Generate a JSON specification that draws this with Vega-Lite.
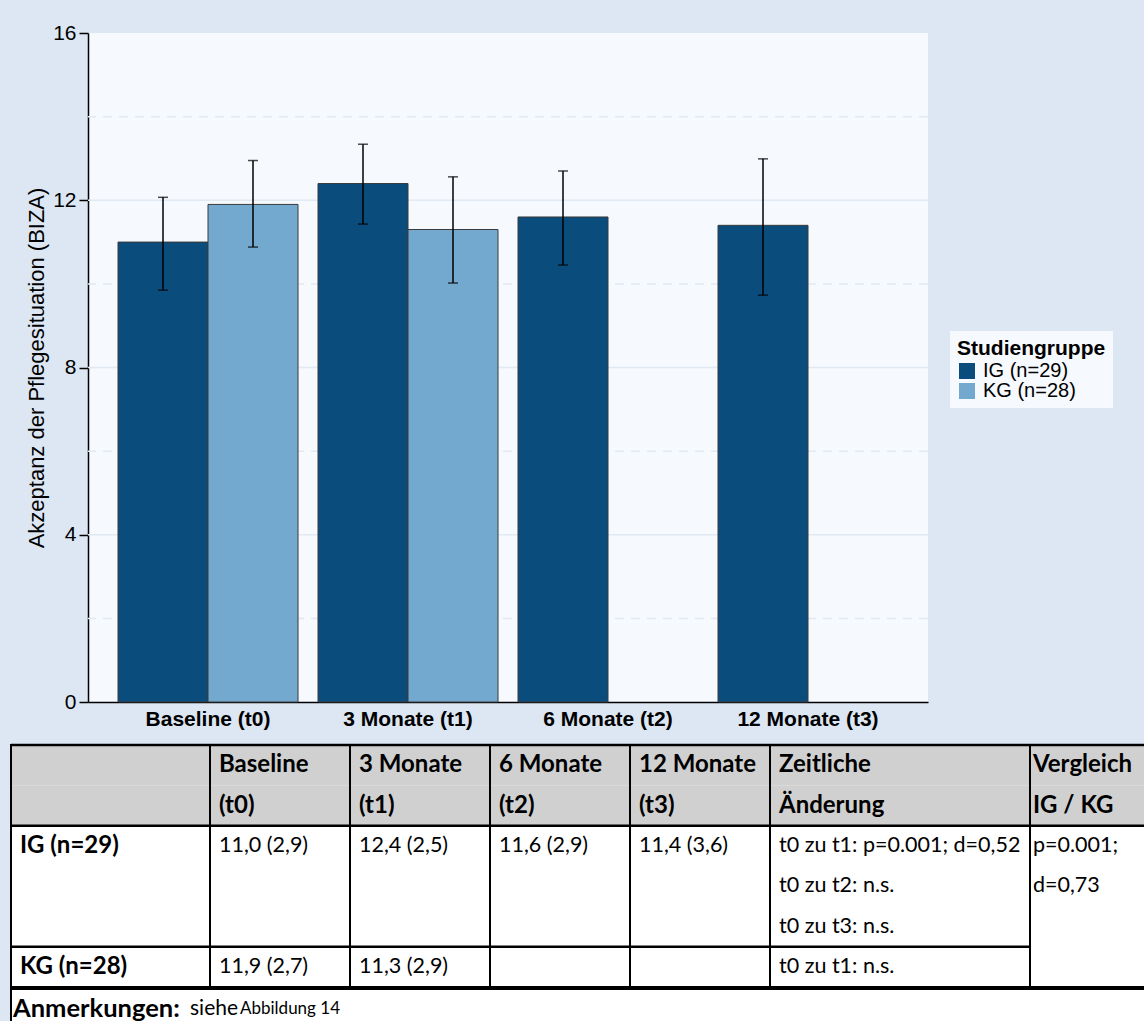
{
  "$schema": "https://vega.github.io/schema/vega-lite/v6.json",
  "background": "#dce7f3",
  "padding": {"left": 8, "top": 22, "right": 0, "bottom": 0},
  "config": {
    "font": "Liberation Sans",
    "concat": {"spacing": 0}
  },
  "datasets": {
    "werte": [
      {"zeit": "Baseline (t0)", "gruppe": "IG (n=29)", "mittel": 11.0, "unten": 9.85, "oben": 12.07},
      {"zeit": "Baseline (t0)", "gruppe": "KG (n=28)", "mittel": 11.9, "unten": 10.88, "oben": 12.95},
      {"zeit": "3 Monate (t1)", "gruppe": "IG (n=29)", "mittel": 12.4, "unten": 11.43, "oben": 13.34},
      {"zeit": "3 Monate (t1)", "gruppe": "KG (n=28)", "mittel": 11.3, "unten": 10.02, "oben": 12.56},
      {"zeit": "6 Monate (t2)", "gruppe": "IG (n=29)", "mittel": 11.6, "unten": 10.45, "oben": 12.7},
      {"zeit": "12 Monate (t3)", "gruppe": "IG (n=29)", "mittel": 11.4, "unten": 9.73, "oben": 12.99}
    ],
    "raster": [
      {"wert": 2, "art": "fein"}, {"wert": 4, "art": "grob"}, {"wert": 6, "art": "fein"},
      {"wert": 8, "art": "grob"}, {"wert": 10, "art": "fein"}, {"wert": 12, "art": "grob"},
      {"wert": 14, "art": "fein"}
    ],
    "zellen": [
      {"col": "kopf", "line": 0, "text": ""},
      {"col": "kopf", "line": 1, "text": ""},
      {"col": "kopf", "line": 2, "text": "IG (n=29)"},
      {"col": "kopf", "line": 5, "text": "KG (n=28)"},
      {"col": "t0", "line": 0, "text": "Baseline"},
      {"col": "t0", "line": 1, "text": "(t0)"},
      {"col": "t0", "line": 2, "text": "11,0 (2,9)"},
      {"col": "t0", "line": 5, "text": "11,9 (2,7)"},
      {"col": "t1", "line": 0, "text": "3 Monate"},
      {"col": "t1", "line": 1, "text": "(t1)"},
      {"col": "t1", "line": 2, "text": "12,4 (2,5)"},
      {"col": "t1", "line": 5, "text": "11,3 (2,9)"},
      {"col": "t2", "line": 0, "text": "6 Monate"},
      {"col": "t2", "line": 1, "text": "(t2)"},
      {"col": "t2", "line": 2, "text": "11,6 (2,9)"},
      {"col": "t3", "line": 0, "text": "12 Monate"},
      {"col": "t3", "line": 1, "text": "(t3)"},
      {"col": "t3", "line": 2, "text": "11,4 (3,6)"},
      {"col": "zeit", "line": 0, "text": "Zeitliche"},
      {"col": "zeit", "line": 1, "text": "Änderung"},
      {"col": "zeit", "line": 2, "text": "t0 zu t1: p=0.001; d=0,52"},
      {"col": "zeit", "line": 3, "text": "t0 zu t2: n.s."},
      {"col": "zeit", "line": 4, "text": "t0 zu t3: n.s."},
      {"col": "zeit", "line": 5, "text": "t0 zu t1: n.s."},
      {"col": "vgl", "line": 0, "text": "Vergleich"},
      {"col": "vgl", "line": 1, "text": "IG / KG"},
      {"col": "vgl", "line": 2, "text": "p=0.001;"},
      {"col": "vgl", "line": 3, "text": "d=0,73"}
    ],
    "grenzen": [
      {"col": "kopf", "line": 0}, {"col": "kopf", "line": 2}, {"col": "kopf", "line": 5},
      {"col": "t0", "line": 0}, {"col": "t0", "line": 2}, {"col": "t0", "line": 5},
      {"col": "t1", "line": 0}, {"col": "t1", "line": 2}, {"col": "t1", "line": 5},
      {"col": "t2", "line": 0}, {"col": "t2", "line": 2}, {"col": "t2", "line": 5},
      {"col": "t3", "line": 0}, {"col": "t3", "line": 2}, {"col": "t3", "line": 5},
      {"col": "zeit", "line": 0}, {"col": "zeit", "line": 2}, {"col": "zeit", "line": 5},
      {"col": "vgl", "line": 0}, {"col": "vgl", "line": 2}
    ],
    "fussnote": [
      {"a": "Anmerkungen:", "b": "siehe", "c": "Abbildung 14"}
    ]
  },
  "spacing": 0,
  "vconcat": [
    {
      "spacing": 0,
      "hconcat": [
        {
          "width": 14,
          "height": 669,
          "view": {"fill": null, "stroke": null},
          "data": {"values": [{"leer": 0}]},
          "mark": {"type": "rule", "opacity": 0},
          "encoding": {}
        },
        {
          "width": 840,
          "height": 669,
          "view": {"fill": "#f6f9fd", "stroke": null},
          "layer": [
            {
              "data": {"name": "raster"},
              "transform": [{"filter": "datum.art === 'grob'"}],
              "mark": {"type": "rule", "color": "#e1e9f3", "strokeWidth": 1.5},
              "encoding": {
                "y": {"field": "wert", "type": "quantitative", "scale": {"domain": [0, 16]}, "title": "Akzeptanz der Pflegesituation (BIZA)"}
              }
            },
            {
              "data": {"name": "raster"},
              "transform": [{"filter": "datum.art === 'fein'"}],
              "mark": {"type": "rule", "color": "#e1e9f3", "strokeWidth": 1.5, "strokeDash": [9, 7]},
              "encoding": {
                "y": {"field": "wert", "type": "quantitative", "title": "Akzeptanz der Pflegesituation (BIZA)"}
              }
            },
            {
              "data": {"name": "werte"},
              "mark": {"type": "bar", "stroke": "#3a3a3a", "strokeWidth": 1},
              "encoding": {
                "x": {
                  "field": "zeit", "type": "nominal", "title": null,
                  "scale": {"domain": ["Baseline (t0)", "3 Monate (t1)", "6 Monate (t2)", "12 Monate (t3)"], "paddingInner": 0.1, "paddingOuter": 0.15},
                  "axis": {"labelAngle": 0, "labelFontSize": 21, "labelFontWeight": "bold", "labelColor": "black", "ticks": false, "labelPadding": 6, "domainColor": "black", "domainWidth": 1.5, "grid": false, "minExtent": 40}
                },
                "xOffset": {"field": "gruppe", "type": "nominal", "scale": {"domain": ["IG (n=29)", "KG (n=28)"], "paddingInner": 0, "paddingOuter": 0}},
                "y": {
                  "field": "mittel", "type": "quantitative", "title": "Akzeptanz der Pflegesituation (BIZA)",
                  "axis": {"values": [0, 4, 8, 12, 16], "grid": false, "tickSize": 9, "tickColor": "black", "tickWidth": 1.5, "labelPadding": 3, "labelFontSize": 21, "labelColor": "black", "domainColor": "black", "domainWidth": 1.5, "titleFontSize": 22, "titleFontWeight": "normal", "titleColor": "black", "titlePadding": 4}
                },
                "color": {
                  "field": "gruppe", "type": "nominal",
                  "scale": {"domain": ["IG (n=29)", "KG (n=28)"], "range": ["#0a4c7c", "#74a9cf"]},
                  "legend": {"title": "Studiengruppe", "orient": "none", "legendX": 939, "legendY": 298, "fillColor": "#f6f9fd", "padding": 7, "titleFontSize": 21, "titleFontWeight": "bold", "titleColor": "black", "titlePadding": 2, "labelFontSize": 20, "labelColor": "black", "symbolType": "square", "symbolSize": 256, "symbolStrokeWidth": 0, "rowPadding": -2, "labelOffset": 6}
                }
              }
            },
            {
              "data": {"name": "werte"},
              "mark": {"type": "rule", "color": "black", "strokeWidth": 1.5},
              "encoding": {
                "x": {"field": "zeit", "type": "nominal", "title": null},
                "xOffset": {"field": "gruppe", "type": "nominal"},
                "y": {"field": "unten", "type": "quantitative", "title": "Akzeptanz der Pflegesituation (BIZA)"},
                "y2": {"field": "oben"}
              }
            },
            {
              "data": {"name": "werte"},
              "mark": {"type": "tick", "color": "black", "thickness": 1.5, "size": 10},
              "encoding": {
                "x": {"field": "zeit", "type": "nominal", "title": null},
                "xOffset": {"field": "gruppe", "type": "nominal"},
                "y": {"field": "unten", "type": "quantitative", "title": "Akzeptanz der Pflegesituation (BIZA)"}
              }
            },
            {
              "data": {"name": "werte"},
              "mark": {"type": "tick", "color": "black", "thickness": 1.5, "size": 10},
              "encoding": {
                "x": {"field": "zeit", "type": "nominal", "title": null},
                "xOffset": {"field": "gruppe", "type": "nominal"},
                "y": {"field": "oben", "type": "quantitative", "title": "Akzeptanz der Pflegesituation (BIZA)"}
              }
            }
          ]
        }
      ]
    },
    {
      "spacing": -3,
      "vconcat": [
        {
          "hconcat": [
            {
              "width": 199, "height": 242,
              "view": {"fill": "white", "stroke": "black", "strokeWidth": 2},
              "layer": [
                {"data": {"name": "zellen"}, "transform": [{"filter": "datum.col === 'kopf' && datum.line < 2"}], "mark": {"type": "rect", "color": "#d0d0d0"},
                 "encoding": {"x": {"field": "col", "type": "nominal", "axis": null, "scale": {"paddingInner": 0, "paddingOuter": 0}}, "y": {"field": "line", "type": "ordinal", "axis": null, "scale": {"domain": [0, 1, 2, 3, 4, 5], "paddingInner": 0, "paddingOuter": 0}}}},
                {"data": {"name": "zellen"}, "transform": [{"filter": "datum.col === 'kopf'"}], "mark": {"type": "text", "align": "left", "baseline": "middle", "dx": 9, "font": "Lato", "fontSize": 24, "fontWeight": "bold", "color": "black"},
                 "encoding": {"x": {"field": "col", "type": "nominal", "bandPosition": 0}, "y": {"field": "line", "type": "ordinal"}, "text": {"field": "text"}}},
                {"data": {"name": "grenzen"}, "transform": [{"filter": "datum.col === 'kopf'"}], "mark": {"type": "rule", "color": "black", "strokeWidth": 2.5},
                 "encoding": {"y": {"field": "line", "type": "ordinal", "bandPosition": 0}}},
                {"data": {"name": "zellen"}, "transform": [{"filter": "datum.col === 'kopf' && datum.line === 0"}], "mark": {"type": "rule", "color": "black", "strokeWidth": 2},
                 "encoding": {"x": {"field": "col", "type": "nominal", "bandPosition": 0}}}
              ]
            },
            {
              "width": 140, "height": 242,
              "view": {"fill": "white", "stroke": "black", "strokeWidth": 2},
              "layer": [
                {"data": {"name": "zellen"}, "transform": [{"filter": "datum.col === 't0' && datum.line < 2"}], "mark": {"type": "rect", "color": "#d0d0d0"},
                 "encoding": {"x": {"field": "col", "type": "nominal", "axis": null, "scale": {"paddingInner": 0, "paddingOuter": 0}}, "y": {"field": "line", "type": "ordinal", "axis": null, "scale": {"domain": [0, 1, 2, 3, 4, 5], "paddingInner": 0, "paddingOuter": 0}}}},
                {"data": {"name": "zellen"}, "transform": [{"filter": "datum.col === 't0' && datum.line < 2"}], "mark": {"type": "text", "align": "left", "baseline": "middle", "dx": 9, "font": "Lato", "fontSize": 24, "fontWeight": "bold", "color": "black"},
                 "encoding": {"x": {"field": "col", "type": "nominal", "bandPosition": 0}, "y": {"field": "line", "type": "ordinal"}, "text": {"field": "text"}}},
                {"data": {"name": "zellen"}, "transform": [{"filter": "datum.col === 't0' && datum.line >= 2"}], "mark": {"type": "text", "align": "left", "baseline": "middle", "dx": 9, "font": "Lato", "fontSize": 21.5, "color": "black"},
                 "encoding": {"x": {"field": "col", "type": "nominal", "bandPosition": 0}, "y": {"field": "line", "type": "ordinal"}, "text": {"field": "text"}}},
                {"data": {"name": "grenzen"}, "transform": [{"filter": "datum.col === 't0'"}], "mark": {"type": "rule", "color": "black", "strokeWidth": 2.5},
                 "encoding": {"y": {"field": "line", "type": "ordinal", "bandPosition": 0}}},
                {"data": {"name": "zellen"}, "transform": [{"filter": "datum.col === 't0' && datum.line === 0"}], "mark": {"type": "rule", "color": "black", "strokeWidth": 2},
                 "encoding": {"x": {"field": "col", "type": "nominal", "bandPosition": 0}}}
              ]
            },
            {
              "width": 140, "height": 242,
              "view": {"fill": "white", "stroke": "black", "strokeWidth": 2},
              "layer": [
                {"data": {"name": "zellen"}, "transform": [{"filter": "datum.col === 't1' && datum.line < 2"}], "mark": {"type": "rect", "color": "#d0d0d0"},
                 "encoding": {"x": {"field": "col", "type": "nominal", "axis": null, "scale": {"paddingInner": 0, "paddingOuter": 0}}, "y": {"field": "line", "type": "ordinal", "axis": null, "scale": {"domain": [0, 1, 2, 3, 4, 5], "paddingInner": 0, "paddingOuter": 0}}}},
                {"data": {"name": "zellen"}, "transform": [{"filter": "datum.col === 't1' && datum.line < 2"}], "mark": {"type": "text", "align": "left", "baseline": "middle", "dx": 9, "font": "Lato", "fontSize": 24, "fontWeight": "bold", "color": "black"},
                 "encoding": {"x": {"field": "col", "type": "nominal", "bandPosition": 0}, "y": {"field": "line", "type": "ordinal"}, "text": {"field": "text"}}},
                {"data": {"name": "zellen"}, "transform": [{"filter": "datum.col === 't1' && datum.line >= 2"}], "mark": {"type": "text", "align": "left", "baseline": "middle", "dx": 9, "font": "Lato", "fontSize": 21.5, "color": "black"},
                 "encoding": {"x": {"field": "col", "type": "nominal", "bandPosition": 0}, "y": {"field": "line", "type": "ordinal"}, "text": {"field": "text"}}},
                {"data": {"name": "grenzen"}, "transform": [{"filter": "datum.col === 't1'"}], "mark": {"type": "rule", "color": "black", "strokeWidth": 2.5},
                 "encoding": {"y": {"field": "line", "type": "ordinal", "bandPosition": 0}}},
                {"data": {"name": "zellen"}, "transform": [{"filter": "datum.col === 't1' && datum.line === 0"}], "mark": {"type": "rule", "color": "black", "strokeWidth": 2},
                 "encoding": {"x": {"field": "col", "type": "nominal", "bandPosition": 0}}}
              ]
            },
            {
              "width": 140, "height": 242,
              "view": {"fill": "white", "stroke": "black", "strokeWidth": 2},
              "layer": [
                {"data": {"name": "zellen"}, "transform": [{"filter": "datum.col === 't2' && datum.line < 2"}], "mark": {"type": "rect", "color": "#d0d0d0"},
                 "encoding": {"x": {"field": "col", "type": "nominal", "axis": null, "scale": {"paddingInner": 0, "paddingOuter": 0}}, "y": {"field": "line", "type": "ordinal", "axis": null, "scale": {"domain": [0, 1, 2, 3, 4, 5], "paddingInner": 0, "paddingOuter": 0}}}},
                {"data": {"name": "zellen"}, "transform": [{"filter": "datum.col === 't2' && datum.line < 2"}], "mark": {"type": "text", "align": "left", "baseline": "middle", "dx": 9, "font": "Lato", "fontSize": 24, "fontWeight": "bold", "color": "black"},
                 "encoding": {"x": {"field": "col", "type": "nominal", "bandPosition": 0}, "y": {"field": "line", "type": "ordinal"}, "text": {"field": "text"}}},
                {"data": {"name": "zellen"}, "transform": [{"filter": "datum.col === 't2' && datum.line >= 2"}], "mark": {"type": "text", "align": "left", "baseline": "middle", "dx": 9, "font": "Lato", "fontSize": 21.5, "color": "black"},
                 "encoding": {"x": {"field": "col", "type": "nominal", "bandPosition": 0}, "y": {"field": "line", "type": "ordinal"}, "text": {"field": "text"}}},
                {"data": {"name": "grenzen"}, "transform": [{"filter": "datum.col === 't2'"}], "mark": {"type": "rule", "color": "black", "strokeWidth": 2.5},
                 "encoding": {"y": {"field": "line", "type": "ordinal", "bandPosition": 0}}},
                {"data": {"name": "zellen"}, "transform": [{"filter": "datum.col === 't2' && datum.line === 0"}], "mark": {"type": "rule", "color": "black", "strokeWidth": 2},
                 "encoding": {"x": {"field": "col", "type": "nominal", "bandPosition": 0}}}
              ]
            },
            {
              "width": 140, "height": 242,
              "view": {"fill": "white", "stroke": "black", "strokeWidth": 2},
              "layer": [
                {"data": {"name": "zellen"}, "transform": [{"filter": "datum.col === 't3' && datum.line < 2"}], "mark": {"type": "rect", "color": "#d0d0d0"},
                 "encoding": {"x": {"field": "col", "type": "nominal", "axis": null, "scale": {"paddingInner": 0, "paddingOuter": 0}}, "y": {"field": "line", "type": "ordinal", "axis": null, "scale": {"domain": [0, 1, 2, 3, 4, 5], "paddingInner": 0, "paddingOuter": 0}}}},
                {"data": {"name": "zellen"}, "transform": [{"filter": "datum.col === 't3' && datum.line < 2"}], "mark": {"type": "text", "align": "left", "baseline": "middle", "dx": 9, "font": "Lato", "fontSize": 24, "fontWeight": "bold", "color": "black"},
                 "encoding": {"x": {"field": "col", "type": "nominal", "bandPosition": 0}, "y": {"field": "line", "type": "ordinal"}, "text": {"field": "text"}}},
                {"data": {"name": "zellen"}, "transform": [{"filter": "datum.col === 't3' && datum.line >= 2"}], "mark": {"type": "text", "align": "left", "baseline": "middle", "dx": 9, "font": "Lato", "fontSize": 21.5, "color": "black"},
                 "encoding": {"x": {"field": "col", "type": "nominal", "bandPosition": 0}, "y": {"field": "line", "type": "ordinal"}, "text": {"field": "text"}}},
                {"data": {"name": "grenzen"}, "transform": [{"filter": "datum.col === 't3'"}], "mark": {"type": "rule", "color": "black", "strokeWidth": 2.5},
                 "encoding": {"y": {"field": "line", "type": "ordinal", "bandPosition": 0}}},
                {"data": {"name": "zellen"}, "transform": [{"filter": "datum.col === 't3' && datum.line === 0"}], "mark": {"type": "rule", "color": "black", "strokeWidth": 2},
                 "encoding": {"x": {"field": "col", "type": "nominal", "bandPosition": 0}}}
              ]
            },
            {
              "width": 260, "height": 242,
              "view": {"fill": "white", "stroke": "black", "strokeWidth": 2},
              "layer": [
                {"data": {"name": "zellen"}, "transform": [{"filter": "datum.col === 'zeit' && datum.line < 2"}], "mark": {"type": "rect", "color": "#d0d0d0"},
                 "encoding": {"x": {"field": "col", "type": "nominal", "axis": null, "scale": {"paddingInner": 0, "paddingOuter": 0}}, "y": {"field": "line", "type": "ordinal", "axis": null, "scale": {"domain": [0, 1, 2, 3, 4, 5], "paddingInner": 0, "paddingOuter": 0}}}},
                {"data": {"name": "zellen"}, "transform": [{"filter": "datum.col === 'zeit' && datum.line < 2"}], "mark": {"type": "text", "align": "left", "baseline": "middle", "dx": 9, "font": "Lato", "fontSize": 24, "fontWeight": "bold", "color": "black"},
                 "encoding": {"x": {"field": "col", "type": "nominal", "bandPosition": 0}, "y": {"field": "line", "type": "ordinal"}, "text": {"field": "text"}}},
                {"data": {"name": "zellen"}, "transform": [{"filter": "datum.col === 'zeit' && datum.line >= 2"}], "mark": {"type": "text", "align": "left", "baseline": "middle", "dx": 9, "font": "Lato", "fontSize": 21.5, "color": "black"},
                 "encoding": {"x": {"field": "col", "type": "nominal", "bandPosition": 0}, "y": {"field": "line", "type": "ordinal"}, "text": {"field": "text"}}},
                {"data": {"name": "grenzen"}, "transform": [{"filter": "datum.col === 'zeit'"}], "mark": {"type": "rule", "color": "black", "strokeWidth": 2.5},
                 "encoding": {"y": {"field": "line", "type": "ordinal", "bandPosition": 0}}},
                {"data": {"name": "zellen"}, "transform": [{"filter": "datum.col === 'zeit' && datum.line === 0"}], "mark": {"type": "rule", "color": "black", "strokeWidth": 2},
                 "encoding": {"x": {"field": "col", "type": "nominal", "bandPosition": 0}}}
              ]
            },
            {
              "width": 115, "height": 242,
              "view": {"fill": "white", "stroke": "black", "strokeWidth": 2},
              "layer": [
                {"data": {"name": "zellen"}, "transform": [{"filter": "datum.col === 'vgl' && datum.line < 2"}], "mark": {"type": "rect", "color": "#d0d0d0"},
                 "encoding": {"x": {"field": "col", "type": "nominal", "axis": null, "scale": {"paddingInner": 0, "paddingOuter": 0}}, "y": {"field": "line", "type": "ordinal", "axis": null, "scale": {"domain": [0, 1, 2, 3, 4, 5], "paddingInner": 0, "paddingOuter": 0}}}},
                {"data": {"name": "zellen"}, "transform": [{"filter": "datum.col === 'vgl' && datum.line < 2"}], "mark": {"type": "text", "align": "left", "baseline": "middle", "dx": 3, "font": "Lato", "fontSize": 24, "fontWeight": "bold", "color": "black"},
                 "encoding": {"x": {"field": "col", "type": "nominal", "bandPosition": 0}, "y": {"field": "line", "type": "ordinal"}, "text": {"field": "text"}}},
                {"data": {"name": "zellen"}, "transform": [{"filter": "datum.col === 'vgl' && datum.line >= 2"}], "mark": {"type": "text", "align": "left", "baseline": "middle", "dx": 3, "font": "Lato", "fontSize": 21.5, "color": "black"},
                 "encoding": {"x": {"field": "col", "type": "nominal", "bandPosition": 0}, "y": {"field": "line", "type": "ordinal"}, "text": {"field": "text"}}},
                {"data": {"name": "grenzen"}, "transform": [{"filter": "datum.col === 'vgl'"}], "mark": {"type": "rule", "color": "black", "strokeWidth": 2.5},
                 "encoding": {"y": {"field": "line", "type": "ordinal", "bandPosition": 0}}},
                {"data": {"name": "zellen"}, "transform": [{"filter": "datum.col === 'vgl' && datum.line === 0"}], "mark": {"type": "rule", "color": "black", "strokeWidth": 2},
                 "encoding": {"x": {"field": "col", "type": "nominal", "bandPosition": 0}}},
                {"data": {"name": "zellen"}, "transform": [{"filter": "datum.col === 'vgl' && datum.line === 0"}], "mark": {"type": "rule", "color": "black", "strokeWidth": 2},
                 "encoding": {"x": {"field": "col", "type": "nominal", "bandPosition": 1}}}
              ]
            }
          ],
          "spacing": 0,
          "bounds": "flush"
        },
        {
          "width": 1134, "height": 40,
          "view": {"fill": "white", "stroke": "black", "strokeWidth": 2},
          "data": {"name": "fussnote"},
          "layer": [
            {"mark": {"type": "text", "align": "left", "baseline": "middle", "dx": 2, "font": "Lato", "fontSize": 25.5, "fontWeight": "bold", "color": "black"},
             "encoding": {"x": {"field": "a", "type": "nominal", "axis": null, "bandPosition": 0, "scale": {"type": "band", "paddingInner": 0, "paddingOuter": 0}}, "text": {"field": "a"}}},
            {"mark": {"type": "text", "align": "left", "baseline": "middle", "dx": 179, "font": "Lato", "fontSize": 21, "color": "black"},
             "encoding": {"x": {"field": "a", "type": "nominal", "bandPosition": 0}, "text": {"field": "b"}}},
            {"mark": {"type": "text", "align": "left", "baseline": "middle", "dx": 229, "font": "Lato", "fontSize": 17, "color": "black"},
             "encoding": {"x": {"field": "a", "type": "nominal", "bandPosition": 0}, "text": {"field": "c"}}}
          ]
        }
      ]
    }
  ]
}
